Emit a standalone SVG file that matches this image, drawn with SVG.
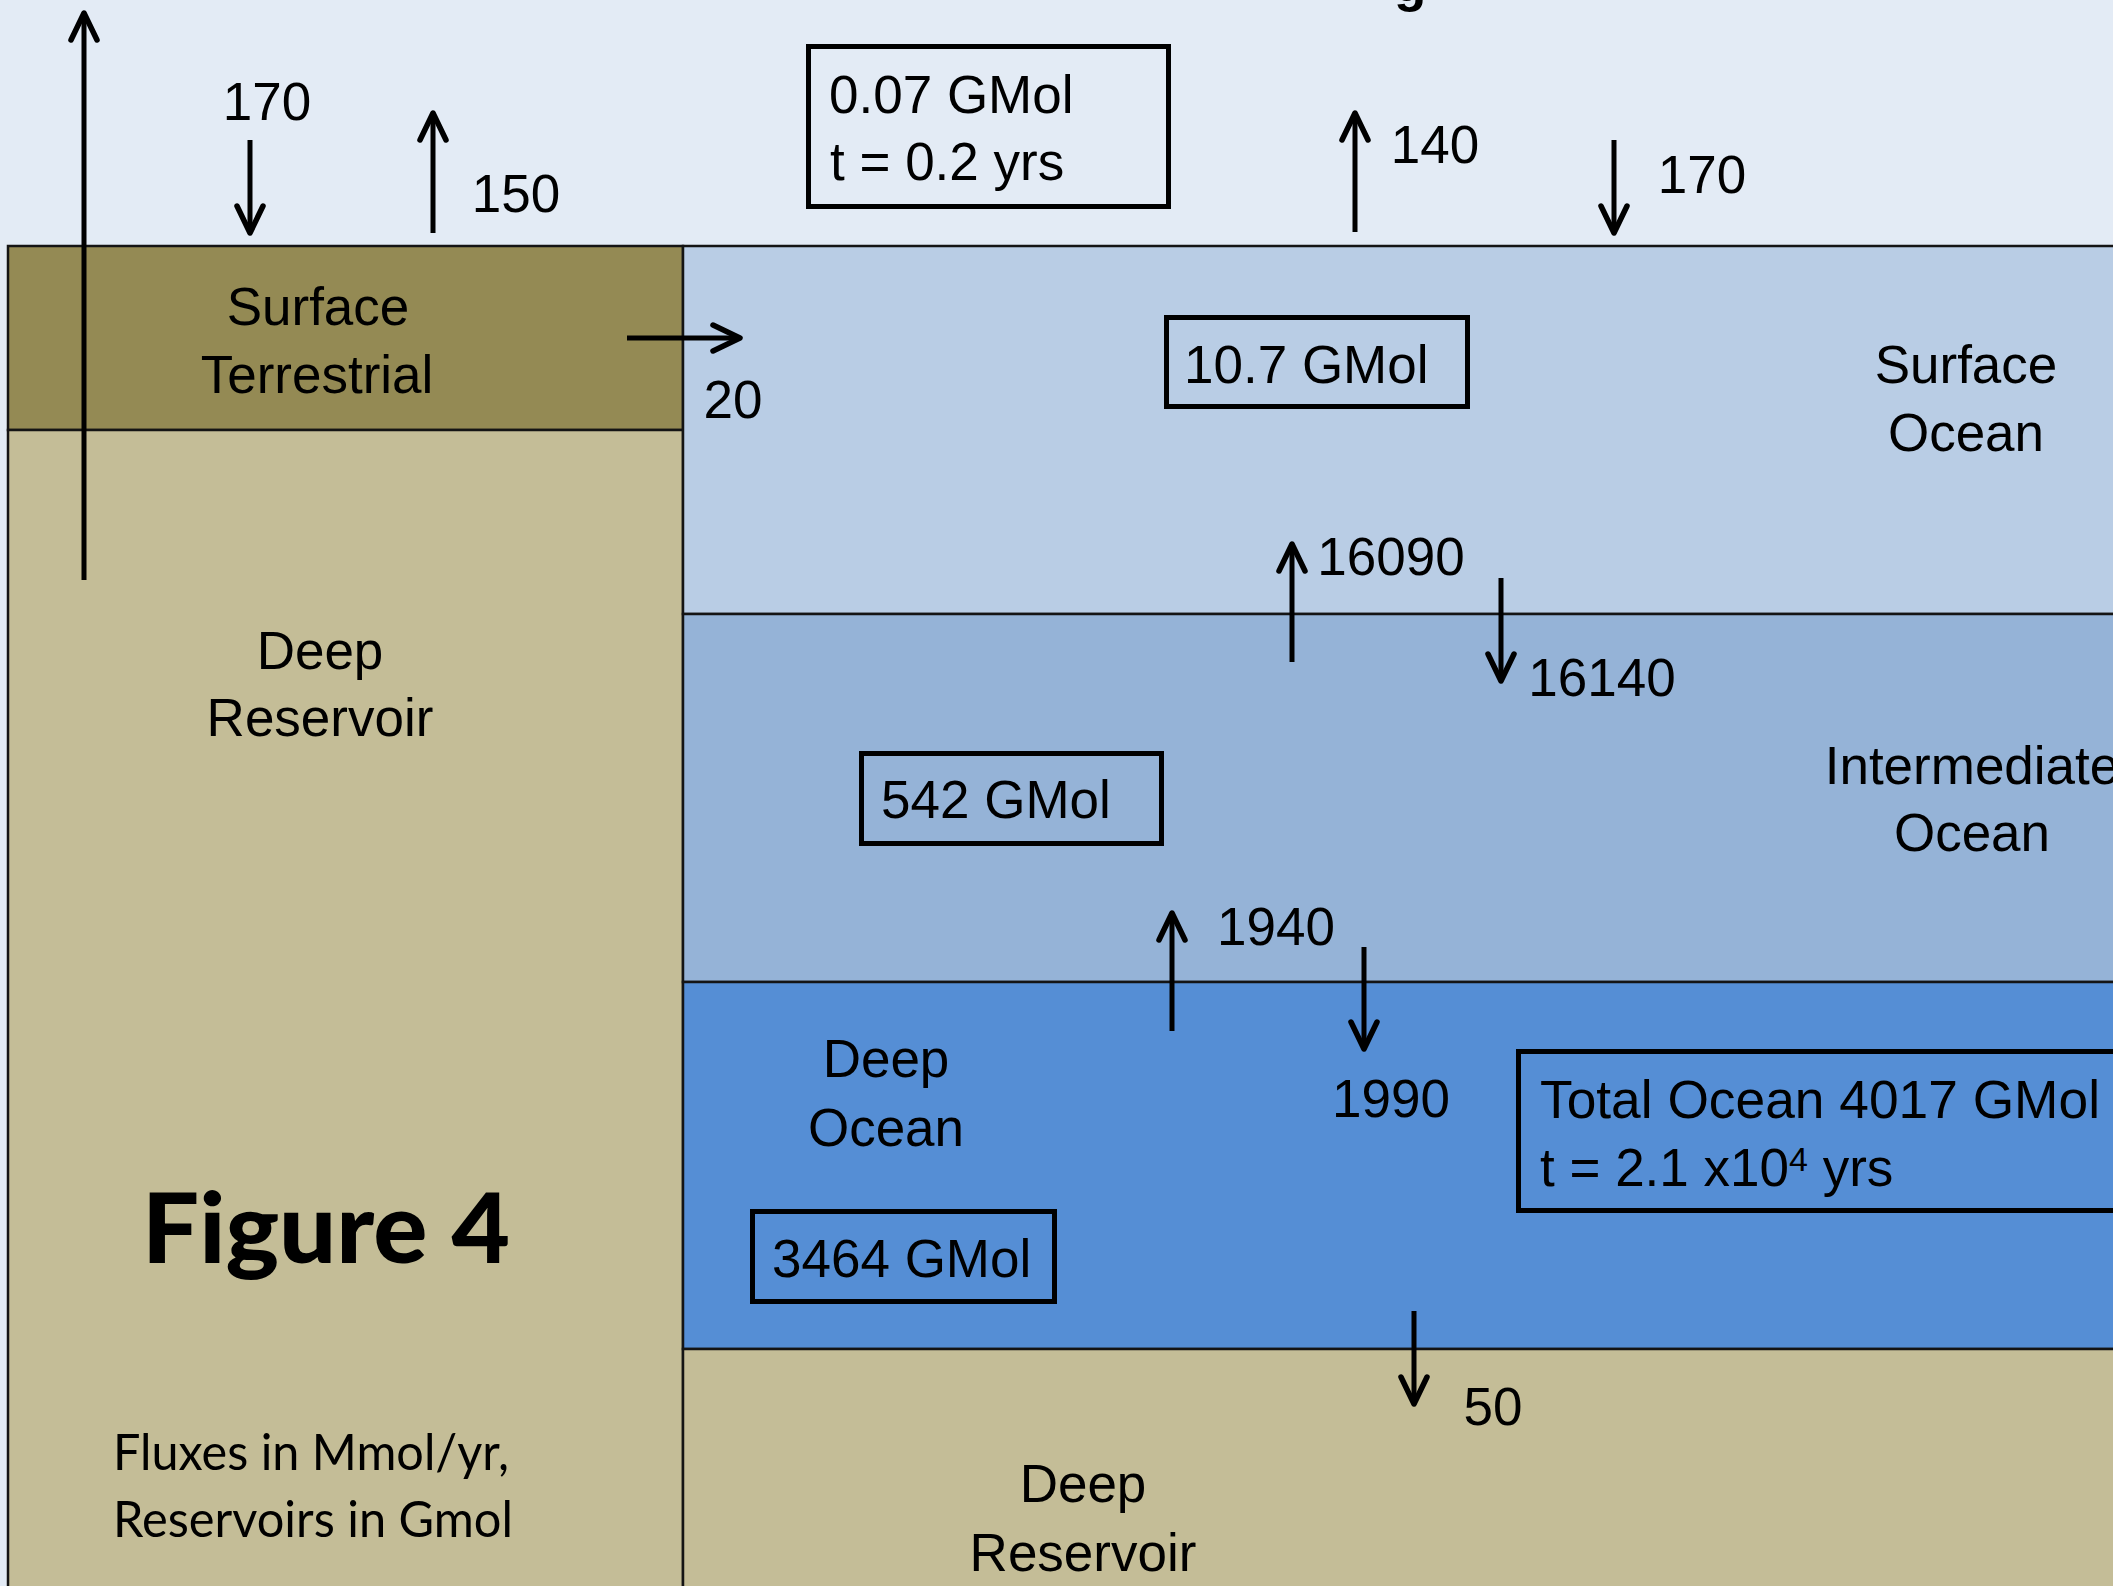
<svg xmlns="http://www.w3.org/2000/svg" width="2113" height="1586" viewBox="0 0 2113 1586">
<style>
  .t{font-family:"Liberation Sans",Arial,Helvetica,sans-serif;font-size:53px;fill:#000}
  .m{text-anchor:middle}
  .layer{stroke:#141414;stroke-width:2.5}
  .box{fill:none;stroke:#000;stroke-width:5}
  .arr{fill:none;stroke:#000;stroke-width:5;marker-end:url(#ah)}
  .cal{font-family:Lato,"Liberation Sans",sans-serif;fill:#000}
</style>
<defs>
  <marker id="ah" markerUnits="userSpaceOnUse" orient="auto" overflow="visible" markerWidth="1" markerHeight="1" refX="0" refY="0">
    <path d="M-27,-13 L0,0 L-27,13" fill="none" stroke="#000" stroke-width="5.5" stroke-linecap="round" stroke-linejoin="round"/>
  </marker>
</defs>
<rect x="0" y="0" width="2113" height="1586" fill="#E3EBF5"/>
<text class="t" x="1394" y="1" font-size="64" font-weight="bold">g</text>

<g id="surface-terrestrial">
  <rect class="layer" x="8" y="246" width="675" height="184" fill="#948A54"/>
  <text class="t m" x="318" y="325">Surface</text>
  <text class="t m" x="317" y="393">Terrestrial</text>
</g>
<g id="deep-reservoir-left">
  <rect class="layer" x="8" y="430" width="675" height="1170" fill="#C4BD97"/>
  <text class="t m" x="320" y="669">Deep</text>
  <text class="t m" x="320" y="736">Reservoir</text>
  <text class="cal m" x="326" y="1263" font-size="98" font-weight="900" textLength="368" lengthAdjust="spacingAndGlyphs">Figure 4</text>
  <text class="cal" x="113" y="1470" font-size="50" textLength="396" lengthAdjust="spacingAndGlyphs">Fluxes in Mmol/yr,</text>
  <text class="cal" x="113" y="1537" font-size="50" textLength="400" lengthAdjust="spacingAndGlyphs">Reservoirs in Gmol</text>
</g>
<g id="surface-ocean">
  <rect class="layer" x="683" y="246" width="1440" height="368" fill="#B9CDE5"/>
  <text class="t m" x="1966" y="383">Surface</text>
  <text class="t m" x="1966" y="451">Ocean</text>
</g>
<g id="intermediate-ocean">
  <rect class="layer" x="683" y="614" width="1440" height="368" fill="#95B3D7"/>
  <text class="t m" x="1972" y="784">Intermediate</text>
  <text class="t m" x="1972" y="851">Ocean</text>
</g>
<g id="deep-ocean">
  <rect class="layer" x="683" y="982" width="1440" height="367" fill="#558ED5"/>
  <text class="t m" x="886" y="1077">Deep</text>
  <text class="t m" x="886" y="1146">Ocean</text>
</g>
<g id="deep-reservoir-bottom">
  <rect class="layer" x="683" y="1349" width="1440" height="260" fill="#C4BD97"/>
  <text class="t m" x="1083" y="1502">Deep</text>
  <text class="t m" x="1083" y="1571">Reservoir</text>
</g>

<g id="atmosphere-box">
  <rect class="box" x="808.5" y="46.5" width="360" height="160"/>
  <text class="t" x="829" y="113">0.07 GMol</text>
  <text class="t" x="830" y="180">t = 0.2 yrs</text>
</g>
<g id="surface-ocean-box">
  <rect class="box" x="1166.5" y="317.5" width="301" height="89"/>
  <text class="t" x="1184" y="383">10.7 GMol</text>
</g>
<g id="intermediate-ocean-box">
  <rect class="box" x="861.5" y="753.5" width="300" height="90"/>
  <text class="t" x="881" y="818">542 GMol</text>
</g>
<g id="deep-ocean-box">
  <rect class="box" x="752.5" y="1211.5" width="302" height="90"/>
  <text class="t" x="772" y="1277">3464 GMol</text>
</g>
<g id="total-ocean-box">
  <rect class="box" x="1518.5" y="1051.5" width="700" height="159"/>
  <text class="t" x="1540" y="1118" textLength="560" lengthAdjust="spacingAndGlyphs">Total Ocean 4017 GMol</text>
  <text class="t" x="1540" y="1186">t = 2.1 x10<tspan font-size="34" dy="-15">4</tspan><tspan dy="15"> yrs</tspan></text>
</g>

<g id="connectors">
  <path class="arr" d="M84,580 V13"/>
  <path class="arr" d="M250,140 V233"/>
  <path class="arr" d="M433,233 V113"/>
  <path class="arr" d="M627,338 H740"/>
  <path class="arr" d="M1355,232 V113"/>
  <path class="arr" d="M1614,140 V233"/>
  <path class="arr" d="M1292,662 V544"/>
  <path class="arr" d="M1501,578 V681"/>
  <path class="arr" d="M1172,1031 V913"/>
  <path class="arr" d="M1364,947 V1049"/>
  <path class="arr" d="M1414,1311 V1404"/>
  <text class="t m" x="267" y="120">170</text>
  <text class="t m" x="516" y="212">150</text>
  <text class="t m" x="733" y="418">20</text>
  <text class="t m" x="1435" y="163">140</text>
  <text class="t m" x="1702" y="193">170</text>
  <text class="t m" x="1391" y="575">16090</text>
  <text class="t m" x="1602" y="696">16140</text>
  <text class="t m" x="1276" y="945">1940</text>
  <text class="t m" x="1391" y="1117">1990</text>
  <text class="t m" x="1493" y="1425">50</text>
</g>
</svg>
